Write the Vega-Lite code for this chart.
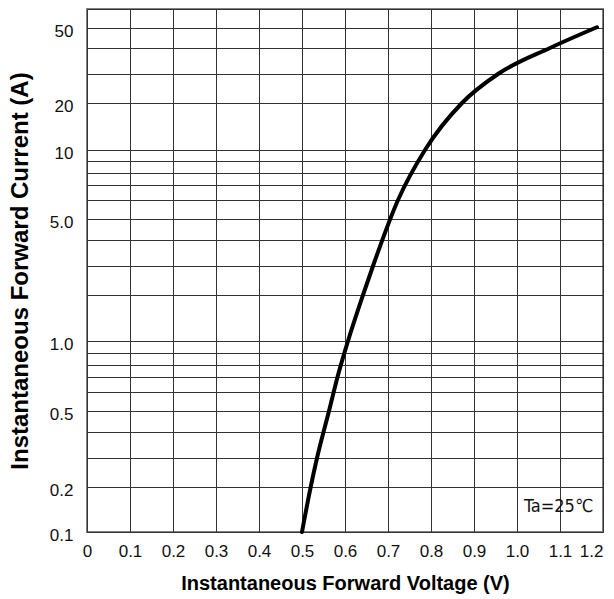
{
  "$schema": "https://vega.github.io/schema/vega-lite/v6.json",
  "width": 516,
  "height": 523,
  "autosize": {"type": "none"},
  "padding": {"left": 87, "top": 9, "right": 11, "bottom": 67},
  "background": "white",
  "config": {
    "view": {"stroke": "#808080", "strokeWidth": 2},
    "axis": {
      "grid": true,
      "gridColor": "#333333",
      "gridWidth": 1,
      "gridOpacity": 1,
      "domain": false,
      "ticks": false,
      "labelFont": "Liberation Sans, Arial, sans-serif",
      "labelFontSize": 17,
      "labelColor": "#111111",
      "labelOverlap": false,
      "tickCount": 100,
      "titleFont": "Liberation Sans, Arial, sans-serif",
      "titleFontWeight": "bold",
      "titleColor": "#000000"
    }
  },
  "data": {
    "values": [
      {"v": 0.5, "i": 0.1},
      {"v": 0.5202, "i": 0.2},
      {"v": 0.5349, "i": 0.3},
      {"v": 0.5628, "i": 0.5},
      {"v": 0.5826, "i": 0.7},
      {"v": 0.607, "i": 1.0},
      {"v": 0.6419, "i": 2},
      {"v": 0.6651, "i": 3},
      {"v": 0.7233, "i": 6},
      {"v": 0.786, "i": 10},
      {"v": 0.8721, "i": 20},
      {"v": 0.9558, "i": 30},
      {"v": 1.0767, "i": 40},
      {"v": 1.186, "i": 50.4}
    ]
  },
  "layer": [
    {
      "mark": {"type": "line", "color": "#000000", "strokeWidth": 4, "interpolate": "monotone", "strokeCap": "round"},
      "encoding": {
        "x": {
          "field": "v",
          "type": "quantitative",
          "scale": {"domain": [0, 1.2], "nice": false, "zero": false},
          "axis": {
            "values": [0, 0.1, 0.2, 0.3, 0.4, 0.5, 0.6, 0.7, 0.8, 0.9, 1.0, 1.1, 1.2],
            "labelExpr": "datum.value == 0 ? '0' : format(datum.value, '.1f')",
            "labelAlign": {"condition": {"test": "datum.value == 1.2", "value": "right"}, "value": "center"},
            "labelFlush": false,
            "labelPadding": 11,
            "title": "Instantaneous Forward Voltage (V)",
            "titleFontSize": 20,
            "titlePadding": 14
          }
        },
        "y": {
          "field": "i",
          "type": "quantitative",
          "scale": {
            "type": "linear",
            "domain": [0.1, 0.2, 0.3, 0.4, 0.5, 0.6, 0.7, 0.8, 0.9, 1, 2, 3, 4, 5, 6, 7, 8, 9, 10, 20, 30, 40, 50, 60],
            "range": [523, 478, 449, 423, 402, 383, 368, 356, 344, 332, 286, 257, 231, 210, 191, 176, 164, 152, 141, 94, 65, 39, 19, 0],
            "nice": false,
            "zero": false
          },
          "axis": {
            "values": [0.1, 0.2, 0.3, 0.4, 0.5, 0.6, 0.7, 0.8, 0.9, 1, 2, 3, 4, 5, 6, 7, 8, 9, 10, 20, 30, 40, 50, 60],
            "labelExpr": "(datum.value == 0.1 || datum.value == 0.2 || datum.value == 0.5 || datum.value == 1 || datum.value == 5) ? format(datum.value, '.1f') : (datum.value == 10 || datum.value == 20 || datum.value == 50) ? format(datum.value, 'd') : ''",
            "labelPadding": 14,
            "labelOffset": 3,
            "title": "Instantaneous Forward Current (A)",
            "titleFontSize": 24,
            "titlePadding": 17
          }
        }
      }
    },
    {
      "data": {"values": [{"note": "Ta=25℃"}]},
      "mark": {"type": "text", "align": "right", "baseline": "middle", "font": "DejaVu Sans Condensed, Liberation Sans, sans-serif", "fontSize": 18, "color": "#111111"},
      "encoding": {
        "x": {"datum": 1.177, "type": "quantitative", "title": "Instantaneous Forward Voltage (V)"},
        "y": {"datum": 0.155, "type": "quantitative", "title": "Instantaneous Forward Current (A)"},
        "text": {"field": "note"}
      }
    }
  ]
}
